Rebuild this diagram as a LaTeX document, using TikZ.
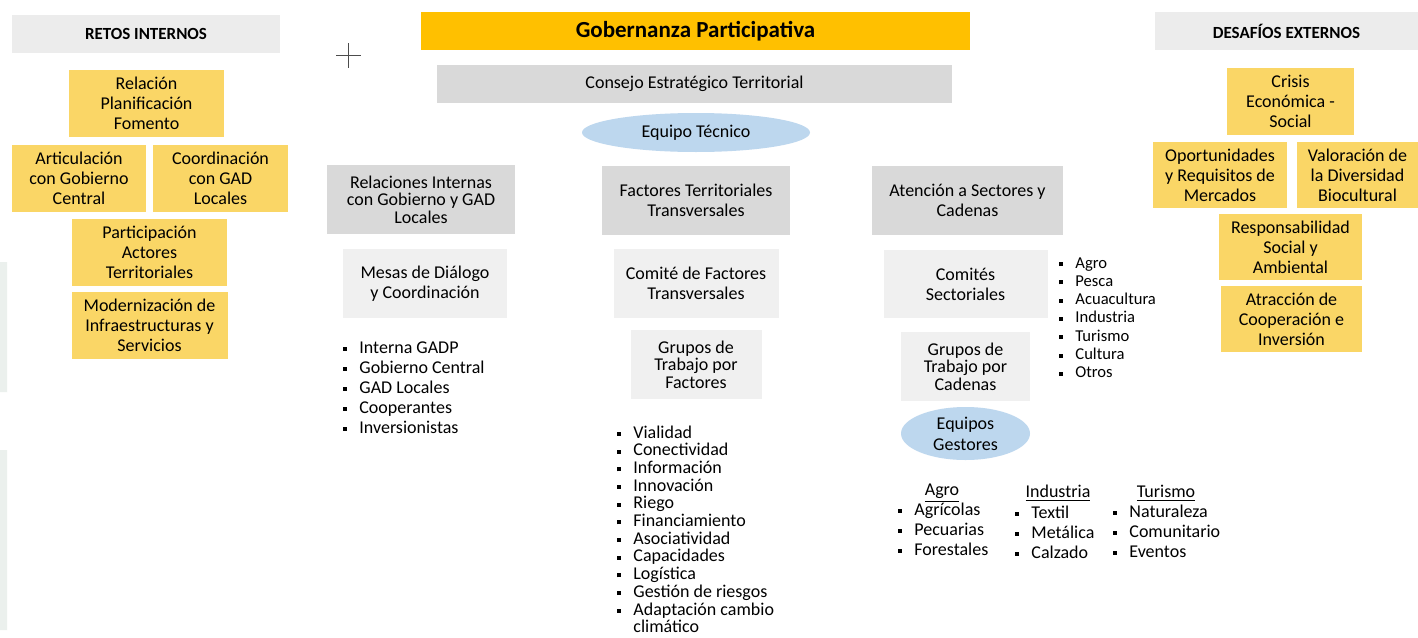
\documentclass[tikz,border=0pt]{standalone}
\usepackage{fontspec}
\setmainfont{Carlito}
\usetikzlibrary{positioning,shapes.geometric}
\definecolor{amarillo}{RGB}{250,214,102}
\definecolor{oro}{RGB}{255,192,0}
\definecolor{grisA}{RGB}{217,217,217}
\definecolor{grisB}{RGB}{240,240,240}
\definecolor{grisC}{RGB}{236,236,236}
\definecolor{celeste}{RGB}{189,215,238}
\definecolor{franja}{RGB}{235,240,237}
\newcommand{\vin}{\llap{\rule[0.25ex]{2pt}{2pt}\hspace{6pt}}}
\tikzset{
	txt/.style={font=\fontsize{9}{10}\selectfont, align=center, inner sep=0pt, outer sep=0pt},
	tam/.style 2 args={minimum width=#1*0.5pt, minimum height=#2*0.5pt},
	ybox/.style={txt, fill=amarillo},
	gbox/.style={txt, fill=grisA},
	lbox/.style={txt, fill=grisB},
	hbox/.style={txt, fill=grisC, font=\bfseries\fontsize{8.5}{10}\selectfont},
	elip/.style={txt, ellipse, fill=celeste},
	tight/.style={font=\fontsize{9}{8.75}\selectfont},
	item/.style={anchor=base west, inner sep=0pt, font=\fontsize{9}{10}\selectfont},
	head/.style={anchor=base, inner sep=0pt, font=\fontsize{9}{10}\selectfont}
}
\begin{document}
\begin{tikzpicture}[x=0.5pt,y=-0.5pt,node distance=6pt]
\fill[white] (0,0) rectangle (1418,637);
\useasboundingbox (0,0) rectangle (1418,637);
\fill[franja] (0,262) rectangle (7,392) (0,450) rectangle (7,630);
\draw[gray!60!black,line width=0.5pt] (336,55) -- (361,55) (348,43) -- (348,68);
% retos internos
\node[hbox,tam={268}{38}] (retos) at (146,34) {RETOS INTERNOS};
\node[ybox,tam={155}{67}] (rel) at (146.5,103.5) {Relación\\Planificación\\Fomento};
\node[ybox,tam={134}{67}] (art) at (79,178.5) {Articulación\\con Gobierno\\Central};
\node[ybox,tam={135}{67},right=3.5pt of art] (coo) {Coordinación\\con GAD\\Locales};
\node[ybox,tam={155}{67}] (par) at (149.5,252.5) {Participación\\Actores\\Territoriales};
\node[ybox,tam={156}{67},below=3pt of par] (mod) {Modernización de\\Infraestructuras y\\Servicios};
% centro
\node[txt,fill=oro,tam={549}{38},font=\bfseries\fontsize{11.5}{13}\selectfont] (gob) at (695.5,31) {Gobernanza Participativa};
\node[gbox,tam={515}{38}] (cons) at (694.5,84) {Consejo Estratégico Territorial};
\node[elip,tam={228}{39}] (eqt) at (696,132.5) {Equipo Técnico};
\node[gbox,tam={188}{69},tight] (relint) at (421,199.5) {Relaciones Internas\\con Gobierno y GAD\\Locales};
\node[gbox,tam={188}{69}] (fac) at (696,200.5) {Factores Territoriales\\Transversales};
\node[gbox,tam={191}{69}] (ate) at (967.5,200.5) {Atención a Sectores y\\Cadenas};
\node[lbox,tam={164}{69},below=7.5pt of relint,xshift=2pt] (mes) {Mesas de Diálogo\\y Coordinación};
\node[lbox,tam={165}{69},below=7pt of fac] (com) {Comité de Factores\\Transversales};
\node[lbox,tam={131}{69},tight,below=6pt of com] (gru) {Grupos de\\Trabajo por\\Factores};
\node[lbox,tam={164}{68},below=7.5pt of ate,xshift=-1pt] (cse) {Comités\\Sectoriales};
\node[lbox,tam={129}{69},tight,below=7pt of cse] (grc) {Grupos de\\Trabajo por\\Cadenas};
\node[elip,tam={129}{53},font=\fontsize{9}{10.5}\selectfont,below=3pt of grc] (eqg) {Equipos\\Gestores};
% listas
\foreach \t [count=\i] in {Interna GADP,Gobierno Central,GAD Locales,Cooperantes,Inversionistas}
	\node[item] (ri\i) at (359,{353+20*(\i-1)}) {\vin\t};
\foreach \t [count=\i] in {Vialidad,Conectividad,Información,Innovación,Riego,Financiamiento,Asociatividad,Capacidades,Logística,Gestión de riesgos,Adaptación cambio}
	\node[item] (fa\i) at (633,{438+17.7*(\i-1)}) {\vin\t};
\node[item] (fa12) at (633,632) {climático};
\foreach \t [count=\i] in {Agro,Pesca,Acuacultura,Industria,Turismo,Cultura,Otros}
	\node[item,font=\fontsize{8.3}{10}\selectfont] (se\i) at (1075,{268+18.3*(\i-1)}) {\vin\t};
\node[head] (agro) at (942,495) {\underline{Agro}};
\node[head] (ind) at (1058,497) {\underline{Industria}};
\node[head] (tur) at (1166,497) {\underline{Turismo}};
\foreach \t [count=\i] in {Agrícolas,Pecuarias,Forestales}
	\node[item] (ag\i) at (914,{515+20*(\i-1)}) {\vin\t};
\foreach \t [count=\i] in {Textil,Metálica,Calzado}
	\node[item] (in\i) at (1031,{518+20*(\i-1)}) {\vin\t};
\foreach \t [count=\i] in {Naturaleza,Comunitario,Eventos}
	\node[item] (tu\i) at (1129,{517+20*(\i-1)}) {\vin\t};
% desafios externos
\node[hbox,tam={263}{38}] (desaf) at (1286.5,31) {DESAFÍOS EXTERNOS};
\node[ybox,tam={127}{67}] (cri) at (1290.5,101.5) {Crisis\\Económica -\\Social};
\node[ybox,tam={134}{66}] (opo) at (1220,175) {Oportunidades\\y Requisitos de\\Mercados};
\node[ybox,tam={121}{66},right=5pt of opo] (val) {Valoración de\\la Diversidad\\Biocultural};
\node[ybox,tam={143}{66}] (resp) at (1290.5,247) {Responsabilidad\\Social y\\Ambiental};
\node[ybox,tam={141}{66}] (atr) at (1291.5,319) {Atracción de\\Cooperación e\\Inversión};
\end{tikzpicture}
\end{document}
